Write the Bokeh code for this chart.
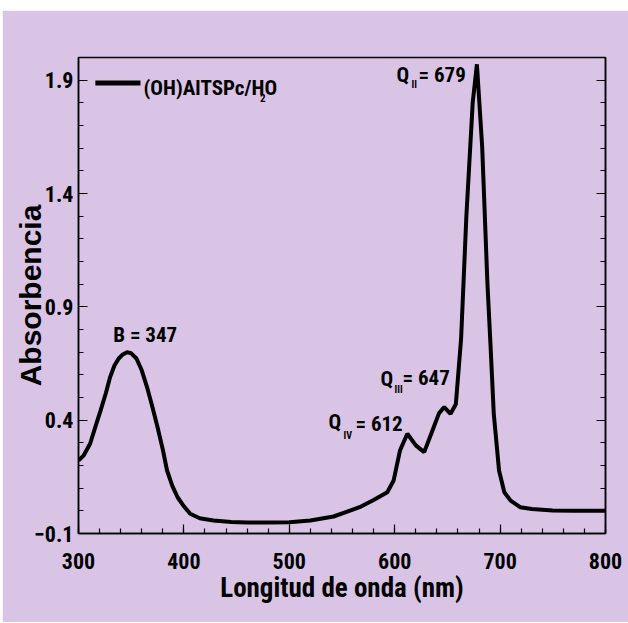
from bokeh.plotting import figure
from bokeh.models import Range1d, FixedTicker, LinearAxis, ColumnDataSource, Spacer
from bokeh.layouts import column, row
from bokeh.core.properties import value
from bokeh.embed import file_html
from bokeh.resources import INLINE

# ---- data ----
wavelength = [300, 305, 311, 316, 321, 326, 330, 334, 338, 342, 346, 350, 355, 360,
              365, 370, 375, 380, 384, 389, 394, 400, 406, 415, 428, 445, 460, 480,
              500, 520, 542, 555, 568, 580, 593, 599, 605, 612, 620, 628, 637, 642,
              647, 653, 658, 663, 668, 674, 678, 683, 688, 691, 694, 699, 704, 710,
              719, 730, 750, 770, 800]
absorbance = [0.222, 0.245, 0.296, 0.370, 0.443, 0.520, 0.590, 0.640, 0.671, 0.690,
              0.700, 0.695, 0.672, 0.620, 0.546, 0.460, 0.369, 0.270, 0.178, 0.110,
              0.060, 0.020, -0.013, -0.033, -0.043, -0.049, -0.052, -0.052, -0.050,
              -0.043, -0.025, -0.003, 0.019, 0.048, 0.082, 0.134, 0.266, 0.340, 0.289,
              0.259, 0.369, 0.430, 0.458, 0.428, 0.470, 0.760, 1.300, 1.800, 1.970,
              1.606, 1.000, 0.722, 0.428, 0.178, 0.082, 0.045, 0.016, 0.008, 0.002,
              0.000, 0.000]

x_ticks = [300, 400, 500, 600, 700, 800]
x_minor = [300 + 20 * i for i in range(26)]
y_ticks = [-0.1, 0.4, 0.9, 1.4, 1.9]
y_minor = [round(-0.1 + 0.1 * i, 2) for i in range(22)]

series_name = ["(OH)AlTSPc/H", "2", "O"]

# peak annotations: main text pieces and subscripts
main_x = [333.0, 537.2, 562.8, 586.5, 607.4, 601.7, 622.6]
main_y = [0.774, 0.390, 0.385, 0.580, 0.584, 1.922, 1.922]
main_t = ["B = 347", "Q", "= 612", "Q", "= 647", "Q", "= 679"]
sub_x = [551.4, 599.8, 615.9]
sub_y = [0.332, 0.535, 1.882]
sub_t = ["IV", "III", "II"]

# legend placement (data coords)
leg_x = [316.0, 358.8]
leg_y = [1.887, 1.887]
leg_text_x = [361.7, 472.2, 476.5]
leg_text_y = [1.865, 1.820, 1.865]

BG = "#D9C4E6"
NARROW = "Roboto Condensed, Noto Sans Condensed, Liberation Sans Narrow, Liberation Sans"

p = figure(width=626, height=612, output_backend="svg", toolbar_location=None,
           x_range=Range1d(300, 800), y_range=Range1d(-0.1, 2.0),
           min_border_left=76, min_border_right=23, min_border_top=47,
           min_border_bottom=89)
p.background_fill_color = BG
p.border_fill_color = BG
p.outline_line_color = "black"
p.outline_line_width = 1.5
p.grid.visible = False

p.line(wavelength, absorbance, line_color="black", line_width=4)

# legend
p.line(leg_x, leg_y, line_color="black", line_width=5)
p.text([leg_text_x[0]], [leg_text_y[0]], text=[series_name[0]], text_font=value(NARROW),
       text_font_size="21px", text_font_style="bold", text_baseline="alphabetic")
p.text([leg_text_x[1]], [leg_text_y[1]], text=[series_name[1]], text_font=value(NARROW),
       text_font_size="11px", text_font_style="bold", text_baseline="alphabetic")
p.text([leg_text_x[2]], [leg_text_y[2]], text=[series_name[2]], text_font=value(NARROW),
       text_font_size="21px", text_font_style="bold", text_baseline="alphabetic")

# annotations
p.text(x="x", y="y", text="t", source=ColumnDataSource(dict(x=main_x, y=main_y, t=main_t)),
       text_font=value(NARROW), text_font_size="21px", text_font_style="bold",
       text_baseline="alphabetic")
p.text(x="x", y="y", text="t", source=ColumnDataSource(dict(x=sub_x, y=sub_y, t=sub_t)),
       text_font=value(NARROW), text_font_size="10px", text_font_style="bold",
       text_baseline="alphabetic")

# axes
xa = p.xaxis[0]
xa.ticker = FixedTicker(ticks=x_ticks, minor_ticks=x_minor)
xa.axis_label = "Longitud de onda (nm)"
ya = p.yaxis[0]
ya.ticker = FixedTicker(ticks=y_ticks, minor_ticks=y_minor)
ya.axis_label = "Absorbencia"

for ax in (xa, ya):
    ax.major_tick_in = 9
    ax.major_tick_out = 0
    ax.minor_tick_in = 5
    ax.minor_tick_out = 0
    ax.axis_line_width = 1.5
    ax.major_tick_line_width = 1.2
    ax.minor_tick_line_width = 1.2
    ax.major_label_text_font = NARROW
    ax.major_label_text_font_style = "bold"
    ax.major_label_text_font_size = "22px"
    ax.major_label_text_color = "black"
    ax.axis_label_text_font_style = "bold"
    ax.axis_label_text_color = "black"

xa.major_label_standoff = 19
xa.axis_label_text_font = NARROW
xa.axis_label_text_font_size = "27px"
xa.axis_label_standoff = 0
ya.major_label_standoff = 5
ya.axis_label_text_font = "Liberation Sans"
ya.axis_label_text_font_size = "30px"
ya.axis_label_standoff = -16

ra = LinearAxis(ticker=FixedTicker(ticks=y_ticks, minor_ticks=y_minor))
ra.major_tick_in = 9
ra.major_tick_out = 0
ra.minor_tick_in = 5
ra.minor_tick_out = 0
ra.axis_line_width = 1.5
ra.major_label_overrides = {t: "" for t in y_ticks}
ra.major_label_standoff = 0
p.add_layout(ra, "right")

layout = column(Spacer(width=628, height=10),
                row(Spacer(width=2, height=612), p))

open("out.html", "w").write(file_html(layout, INLINE))
